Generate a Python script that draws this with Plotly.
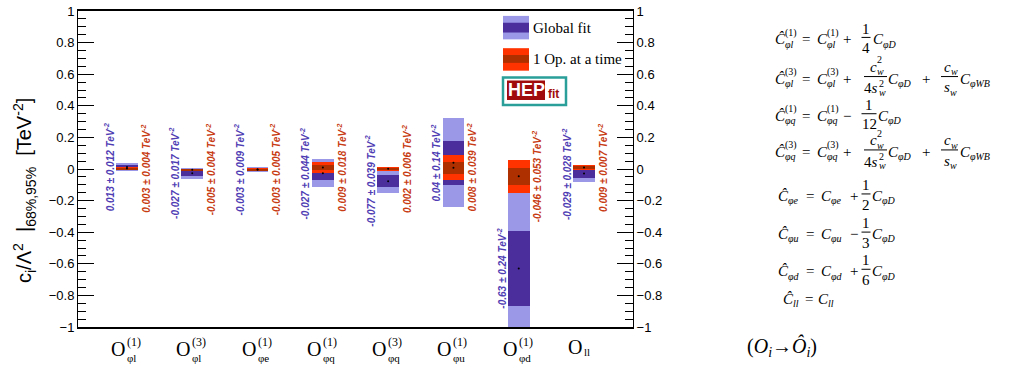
import plotly.graph_objects as go

# ---------------- data ----------------
op_sup = ["(1)", "(3)", "(1)", "(1)", "(3)", "(1)", "(1)", ""]
op_sub = ["φl", "φl", "φe", "φq", "φq", "φu", "φd", "ll"]
global_mean = [0.013, -0.027, -0.003, -0.027, -0.077, 0.04, -0.63, -0.029]
global_err = [0.012, 0.017, 0.009, 0.044, 0.039, 0.14, 0.24, 0.028]
single_mean = [0.003, -0.005, -0.003, 0.009, 0.002, 0.008, -0.046, 0.009]
single_err = [0.004, 0.004, 0.005, 0.018, 0.006, 0.039, 0.053, 0.007]
y_tickvals = [-1, -0.8, -0.6, -0.4, -0.2, 0, 0.2, 0.4, 0.6, 0.8, 1]
y_ticktext = ["−1", "−0.8", "−0.6", "−0.4", "−0.2", "0", "0.2", "0.4", "0.6", "0.8", "1"]
legend_labels = ["Global fit", "1 Op. at a time"]

# ---------------- style ----------------
W, H = 1013, 370
L, R, T, B = 78, 633, 4, 327
LIGHT_P, DARK_P = "#9c98e8", "#4b2d9c"
LIGHT_R, DARK_R = "#ff3300", "#ae2f00"
TXT_P, TXT_R = "#4f3db4", "#c83c14"
BAR_W = 0.33
SERIF = "Liberation Serif"
SANS = "Liberation Sans"


def px(x):
    return (x - L) / (R - L)


def py(y):
    return (B - y) / (B - T)


x = list(range(len(global_mean)))
fig = go.Figure()


def band(mean, err, k, color):
    return go.Bar(
        x=x,
        y=[2 * k * e for e in err],
        base=[m - k * e for m, e in zip(mean, err)],
        width=BAR_W,
        marker=dict(color=color, line=dict(width=0)),
        showlegend=False,
        hoverinfo="skip",
    )


fig.add_trace(band(global_mean, global_err, 2, LIGHT_P))
fig.add_trace(band(global_mean, global_err, 1, DARK_P))
fig.add_trace(band(single_mean, single_err, 2, LIGHT_R))
fig.add_trace(band(single_mean, single_err, 1, DARK_R))
fig.add_trace(go.Scatter(x=x, y=global_mean, mode="markers",
                         marker=dict(color="black", size=2), showlegend=False, hoverinfo="skip"))
fig.add_trace(go.Scatter(x=x, y=single_mean, mode="markers",
                         marker=dict(color="black", size=2), showlegend=False, hoverinfo="skip"))
# dummy trace for the right-hand axis
fig.add_trace(go.Scatter(x=[0], y=[0], yaxis="y2", mode="markers",
                         marker=dict(opacity=0), showlegend=False, hoverinfo="skip"))

annotations = []
shapes = []

# value labels
for i in x:
    annotations.append(dict(
        x=i - 0.27, y=global_mean[i], xref="x", yref="y", showarrow=False, textangle=-90,
        text=f"<b><i>{global_mean[i]:g} ± {global_err[i]:g} TeV<sup>-2</sup></i></b>",
        font=dict(family=SANS, size=10, color=TXT_P)))
    annotations.append(dict(
        x=i + 0.28, y=single_mean[i], xref="x", yref="y", showarrow=False, textangle=-90,
        text=f"<b><i>{single_mean[i]:g} ± {single_err[i]:g} TeV<sup>-2</sup></i></b>",
        font=dict(family=SANS, size=10, color=TXT_R)))

# category labels
for i in x:
    has_sup = op_sup[i] != ""
    annotations.append(dict(x=i, y=py(349 if has_sup else 347), xref="x", yref="paper",
                            xanchor="right", yanchor="middle", showarrow=False, text="O",
                            font=dict(family=SERIF, size=20, color="black")))
    if has_sup:
        annotations.append(dict(x=i, y=py(342), xref="x", yref="paper", xanchor="left",
                                yanchor="middle", showarrow=False, text=op_sup[i],
                                font=dict(family=SERIF, size=12, color="black"), xshift=-2))
    annotations.append(dict(x=i, y=py(359 if has_sup else 353), xref="x", yref="paper",
                            xanchor="left", yanchor="middle", showarrow=False, text=op_sub[i],
                            font=dict(family=SERIF, size=11, color="black"), xshift=-2))

# y-axis title
annotations.append(dict(
    x=px(24), y=py(188), xref="paper", yref="paper", showarrow=False, textangle=-90,
    xanchor="center", yanchor="middle",
    text="c<sub>i</sub>/Λ<sup>2</sup>  |<sub>68%,95%</sub>  [TeV<sup>-2</sup>]",
    font=dict(family=SANS, size=20, color="black")))


def txt(xp, yp, s, size=15, anchor="left", color="black", family=SERIF):
    annotations.append(dict(x=px(xp), y=py(yp), xref="paper", yref="paper", showarrow=False,
                            xanchor=anchor, yanchor="middle", text=s,
                            font=dict(family=family, size=size, color=color)))


def rect(x0, y0, x1, y1, fill, line_color=None, lw=0):
    shapes.append(dict(type="rect", xref="paper", yref="paper", x0=px(x0), x1=px(x1),
                       y0=py(y1), y1=py(y0), fillcolor=fill,
                       line=dict(color=line_color or fill, width=lw)))


# legend
rect(503, 9, 529, 33, LIGHT_P)
rect(503, 16, 529, 26, DARK_P)
rect(503, 42, 529, 65, LIGHT_R)
rect(503, 49, 529, 57, DARK_R)
txt(531, 21, legend_labels[0], size=15)
txt(531, 53, legend_labels[1], size=15)
# HEPfit logo
rect(503, 72, 566, 100, "white", "#2a9f9a", 2.5)
rect(507, 75, 545, 95, "#a00b0b")
txt(506, 85, "<b>HEP</b>", size=18, color="white", family=SANS)
txt(546, 89, "<b>fit</b>", size=12, color="#a00b0b", family=SANS)


# equations
def sym(xp, yp, base, sup="", sub="", bw=10, size=15):
    txt(xp, yp, "<i>" + base + "</i>", size)
    if sup:
        txt(xp + bw, yp - 7, sup, 10)
    if sub:
        txt(xp + bw, yp + 5, "<i>" + sub + "</i>", 10)


def hline(x0, x1, yp):
    shapes.append(dict(type="line", xref="paper", yref="paper", x0=px(x0), x1=px(x1),
                       y0=py(yp), y1=py(yp), line=dict(color="black", width=1)))


def frac(xc, yp, num, den, w):
    txt(xc, yp - 11, num, anchor="center")
    txt(xc, yp + 9, den, anchor="center")
    hline(xc - w / 2, xc + w / 2, yp - 2)


def cw_frac(x0, yp):
    # c_w^2 / (4 s_w^2)
    hline(x0, x0 + 23, yp - 2)
    sym(x0 + 4, yp - 12, "c", "2", "w", bw=7)
    txt(x0 - 2, yp + 10, "4<i>s</i>")
    txt(x0 + 13, yp + 5, "2", 10)
    txt(x0 + 13, yp + 14, "<i>w</i>", 10)


def cs_frac(x0, yp):
    # c_w / s_w
    hline(x0, x0 + 17, yp - 2)
    sym(x0 + 1, yp - 12, "c", "", "w", bw=7)
    sym(x0 + 1, yp + 9, "s", "", "w", bw=6)


# line 1
y0 = 33
sym(773, y0, "Ĉ", "(1)", "φl")
txt(800, y0, "=")
sym(815, y0, "C", "(1)", "φl")
txt(841, y0, "+")
frac(866, y0, "1", "4", 9)
sym(871, y0, "C", "", "φD")
# line 2
y0 = 73
sym(773, y0, "Ĉ", "(3)", "φl")
txt(800, y0, "=")
sym(815, y0, "C", "(3)", "φl")
txt(841, y0, "+")
cw_frac(864, y0)
sym(886, y0, "C", "", "φD")
txt(920, y0, "+")
cs_frac(941, y0)
sym(958, y0, "C", "", "φWB")
# line 3
y0 = 111
sym(773, y0, "Ĉ", "(1)", "φq")
txt(800, y0, "=")
sym(815, y0, "C", "(1)", "φq")
txt(841, y0, "−")
frac(869, y0, "1", "12", 15)
sym(876, y0, "C", "", "φD")
# line 4
y0 = 148
sym(773, y0, "Ĉ", "(3)", "φq")
txt(800, y0, "=")
sym(815, y0, "C", "(3)", "φq")
txt(841, y0, "+")
cw_frac(864, y0)
sym(886, y0, "C", "", "φD")
txt(920, y0, "+")
cs_frac(941, y0)
sym(958, y0, "C", "", "φWB")
# lines 5-7
for y0, sub, sign, den in [(193, "φe", "+", "2"), (232, "φu", "−", "3"), (270, "φd", "+", "6")]:
    sym(776, y0, "Ĉ", "", sub)
    txt(804, y0, "=")
    sym(819, y0, "C", "", sub)
    txt(848, y0, sign)
    frac(866, y0, "1", den, 9)
    sym(870, y0, "C", "", "φD")
# line 8
y0 = 298
sym(781, y0, "Ĉ", "", "ll")
txt(803, y0, "=")
sym(816, y0, "C", "", "ll")
# mapping
txt(745, 347, "(<i>O<sub>i</sub></i>→<i>Ô<sub>i</sub></i>)", size=20)

axis_common = dict(
    range=[-1, 1], tickvals=y_tickvals, ticktext=y_ticktext, ticks="inside", ticklen=16,
    tickcolor="black", tickwidth=1, showline=True, linecolor="black", linewidth=1,
    showgrid=False, zeroline=False, tickfont=dict(family=SANS, size=13, color="black"),
    ticklabeloverflow="allow",
    minor=dict(dtick=0.05, tick0=0, ticks="inside", ticklen=8, tickcolor="black", showgrid=False),
)

fig.update_layout(
    width=W, height=H,
    margin=dict(l=L, r=W - R, t=T, b=H - B, pad=0),
    paper_bgcolor="white", plot_bgcolor="white",
    barmode="overlay", bargap=0,
    showlegend=False,
    xaxis=dict(range=[-0.75, 7.75], showticklabels=False, ticks="", showgrid=False,
               zeroline=False, showline=True, linecolor="black", linewidth=2, mirror=True),
    yaxis=dict(side="left", **axis_common),
    yaxis2=dict(side="right", overlaying="y", anchor="x", **axis_common),
    annotations=annotations,
    shapes=shapes,
)

fig.write_html(
    "out.html",
    config={"displayModeBar": False},
    post_script="document.body.style.margin='0px';document.body.style.padding='0px';",
)
